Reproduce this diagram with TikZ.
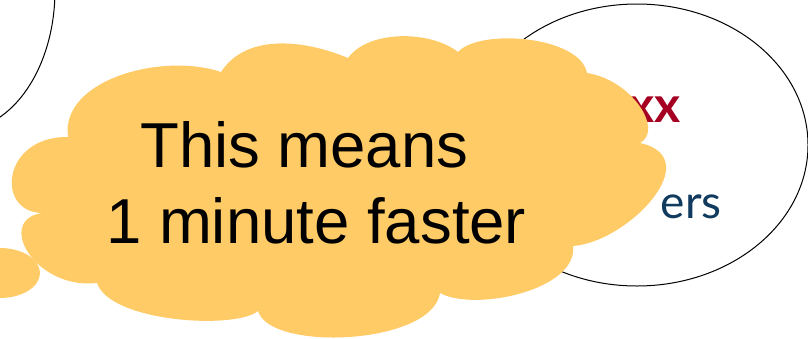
\documentclass[tikz,border=0pt]{standalone}
\usepackage{fontspec}
\setmainfont{Liberation Sans}
\newfontfamily\latofont{Lato}
\definecolor{cloudfill}{HTML}{FFCB66}
\definecolor{darkred}{HTML}{A50021}
\definecolor{navy}{HTML}{103A5E}
\tikzset{
  outline/.style={draw=black, line width=1pt},
  cloudtext/.style={anchor=base west, inner sep=0pt, font=\fontsize{63.5}{72}\selectfont, text=black},
}
\begin{document}
\begin{tikzpicture}[x=1pt,y=-1pt]
\useasboundingbox (0,0) rectangle (808,338);
\clip (0,0) rectangle (808,338);
% background ellipses
\draw[outline] (-40,-10) ellipse [x radius=95, y radius=140];
\draw[outline] (637,145) ellipse [x radius=171, y radius=141];
% texts partly hidden
\node[anchor=base east, inner sep=0pt, text=darkred, font=\latofont\bfseries\fontsize{50}{60}\selectfont] (xx) at (681,122) {xx};
\node[anchor=base east, inner sep=0pt, text=navy, font=\latofont\fontsize{46}{55}\selectfont] (ers) at (722,218) {ers};
% small bubble
\fill[cloudfill] (0,273) ellipse [x radius=40, y radius=25];
% cloud
\fill[cloudfill] (68,137)
  .. controls (60,80) and (162,52) .. (221,72)
  .. controls (245,35) and (300,38) .. (348,58)
  .. controls (368,30) and (430,30) .. (458,52)
  .. controls (480,28) and (580,36) .. (587,73)
  .. controls (632,80) and (664,130) .. (640,143)
  .. controls (708,158) and (628,242) .. (573,246)
  .. controls (578,290) and (475,312) .. (440,293)
  .. controls (432,345) and (270,352) .. (258,311)
  .. controls (235,330) and (110,322) .. (97,283)
  .. controls (35,290) and (-5,220) .. (42,213)
  .. controls (-5,212) and (2,136) .. (68,137) -- cycle;
% cloud text
\node[cloudtext] (l1) at (140,167) {This means};
\node[cloudtext] (l2) at (106,243) {1 minute faster};
\end{tikzpicture}
\end{document}
